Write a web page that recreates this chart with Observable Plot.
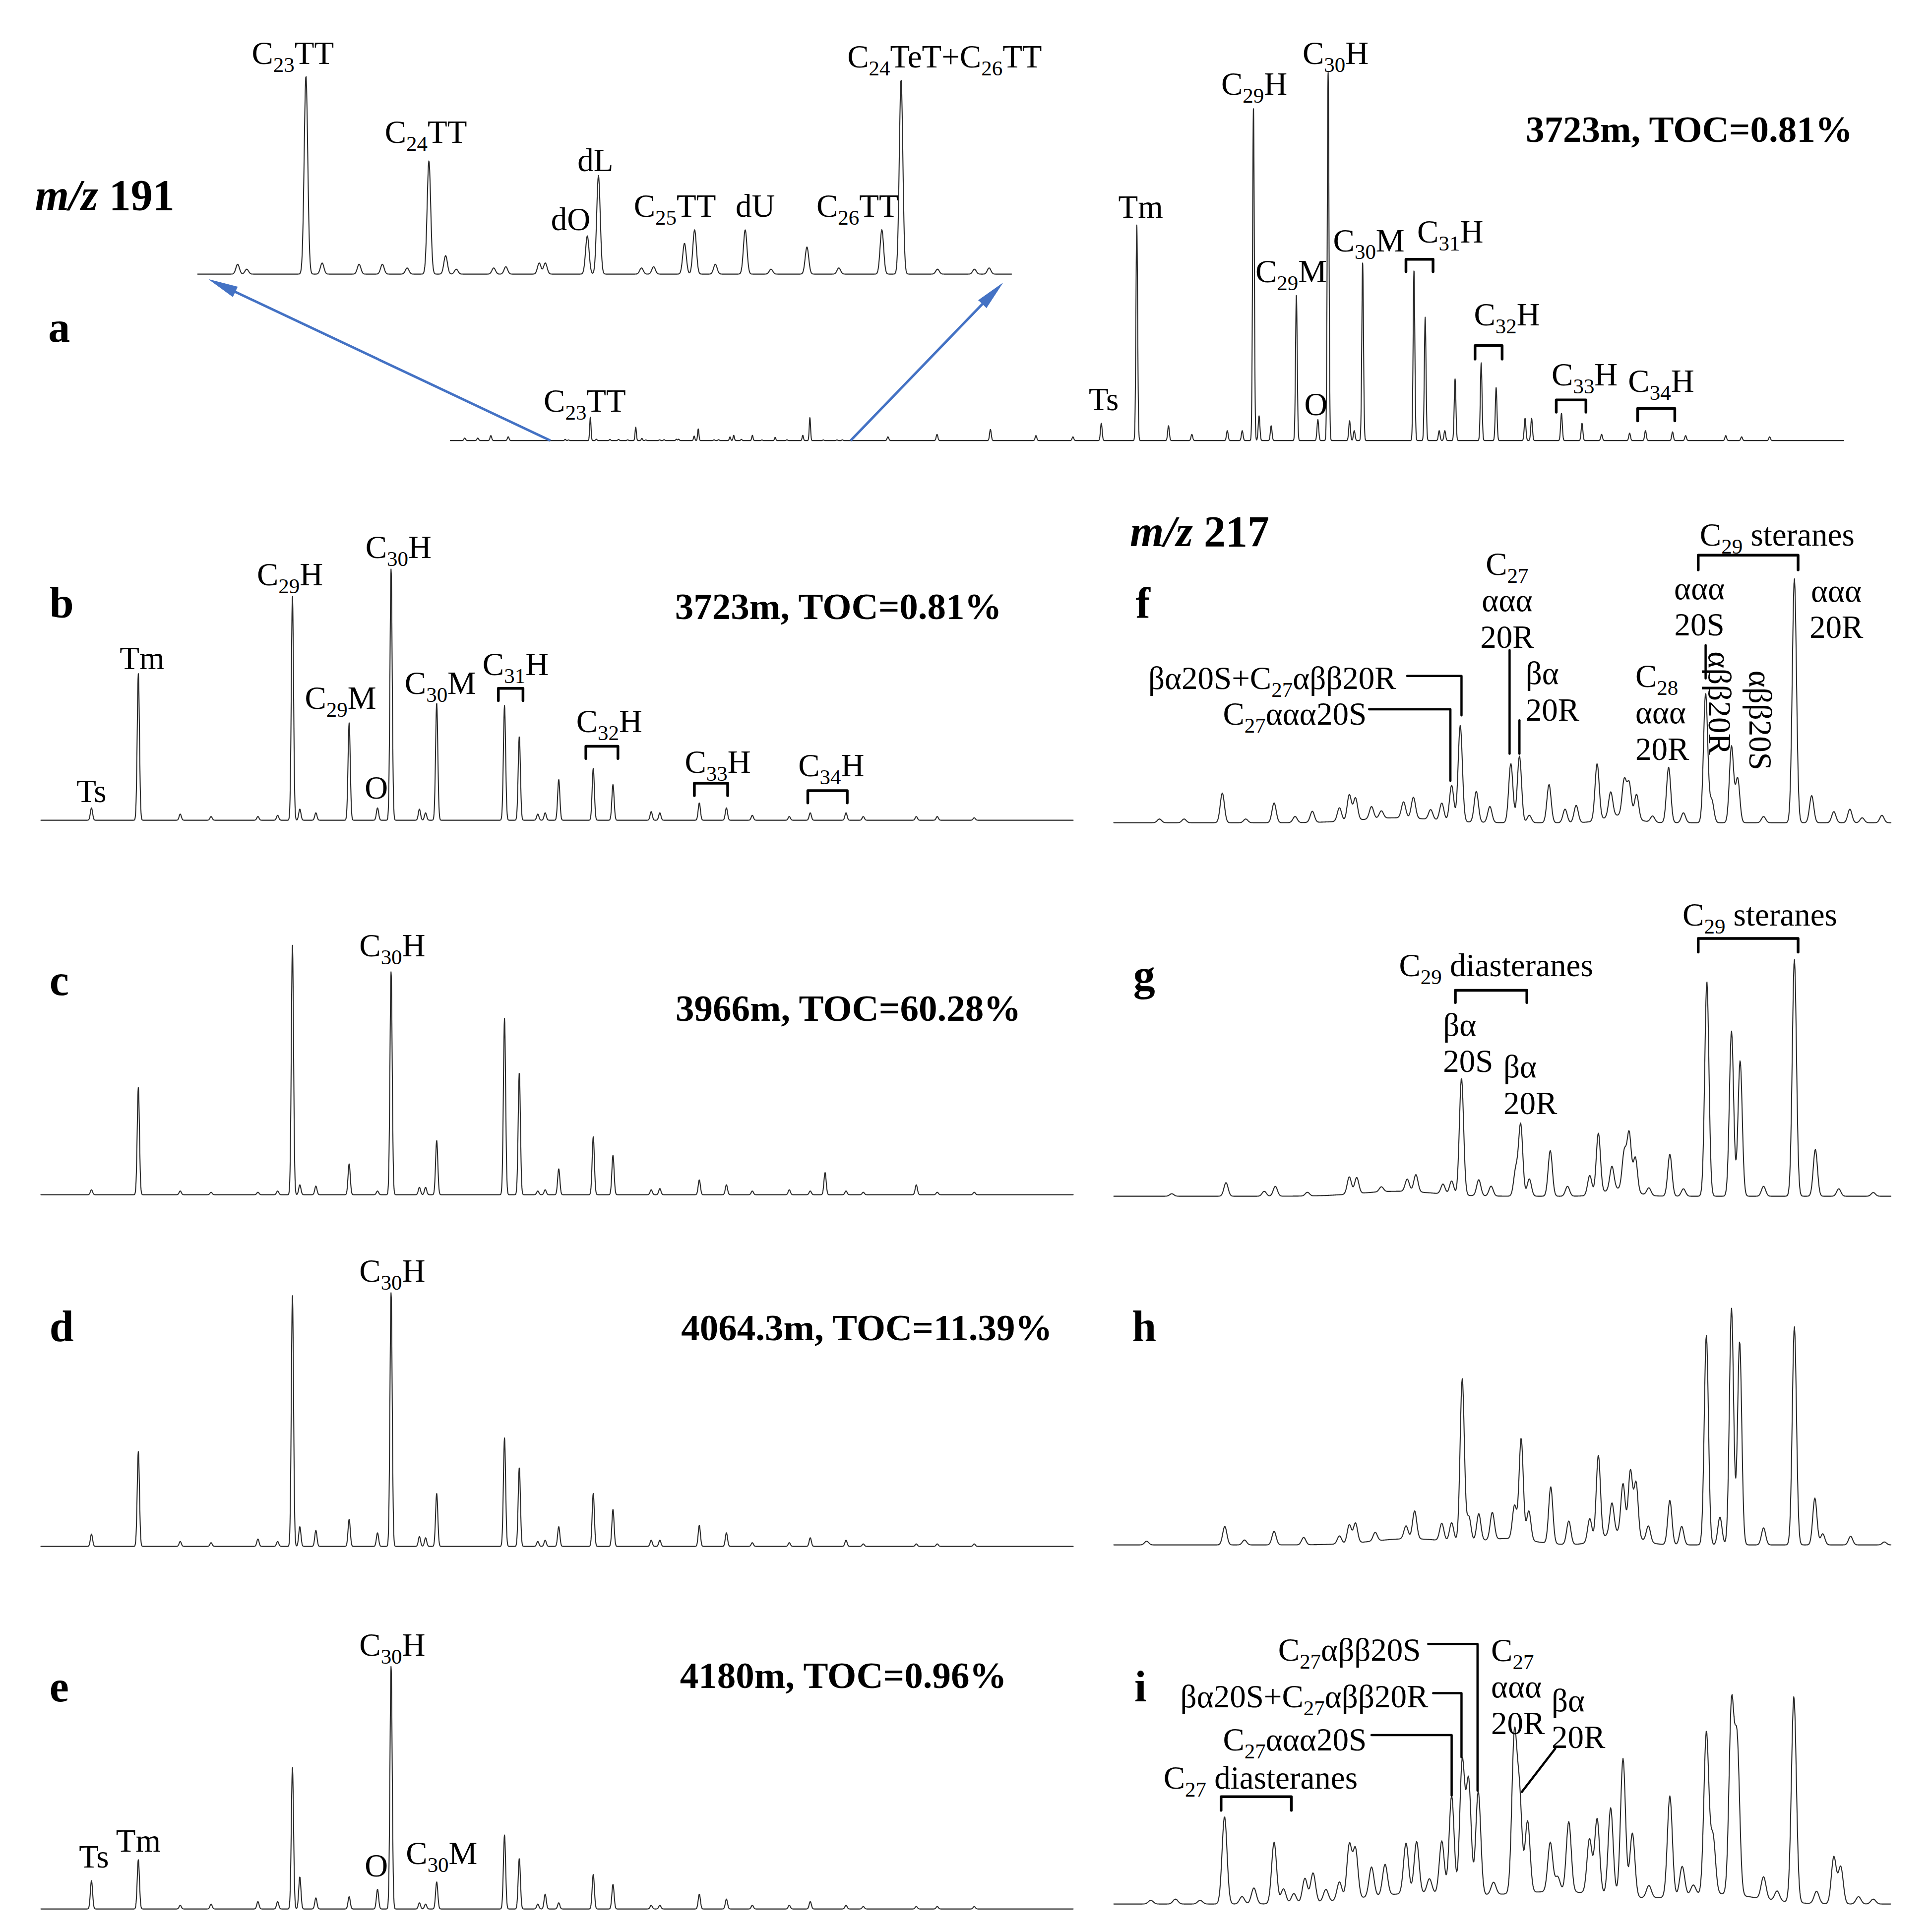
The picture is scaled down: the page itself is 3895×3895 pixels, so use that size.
<!DOCTYPE html>
<html>
<head>
<meta charset="utf-8">
<script src="https://cdn.jsdelivr.net/npm/d3@7"></script>
<script src="https://cdn.jsdelivr.net/npm/@observablehq/plot@0.6"></script>
<style>
  html, body { margin: 0; padding: 0; background: #fff; }
  #root { position: relative; width: 3895px; height: 3895px; background: #fff; overflow: hidden; }
  #root > svg { position: absolute; overflow: visible; max-width: none; }
</style>
</head>
<body>
<div id="root"></div>
<script>
// ================= DATA =================
// m/z 191 terpanes: retention time (min) of each compound, shared by panels a–e
const hopaneRT = [38.70,40.60,42.30,43.55,45.45,46.25,46.85,47.15,47.80,49.15,50.30,50.85,52.00,52.25,52.70,55.45,56.05,56.80,57.10,57.65,59.05,59.85,61.40,61.75,63.35,64.45,65.50,67.00,67.85,69.30,70.00,72.15,73.00,74.50,68.45];
// peak intensities (arbitrary units) per sample
const hopaneA = [14,175,12,5,8,8,270,20,12,118,17,299,16,8,144,138,100,8,8,50,63,43,18,18,22,14,5,6,8,7,4,4,3,3,0];
const hopaneB = [10,119,5,3,3,4,182,9,6,79,10,204,9,6,95,93,68,5,6,33,42,29,7,6,14,10,4,3,6,6,3,3,3,2,0];
const hopaneC = [4,87,3,2,2,3,203,8,7,25,3,181,6,6,44,143,99,3,4,21,47,32,4,5,12,8,3,4,3,3,2,8,2,2,18];
const hopaneD = [10,77,4,3,6,4,204,16,13,22,11,206,8,7,43,88,64,4,5,16,43,30,5,5,17,11,3,3,7,5,2,2,2,2,0];
const hopaneE = [23,40,3,4,6,6,115,26,9,10,16,197,5,4,22,60,41,4,12,5,28,20,3,3,12,8,3,3,6,3,2,2,2,2,0];
// early small peaks of sample a (RT, intensity)
const earlyA = [[4.6,2],[5.3,2],[6.0,4],[6.93,3],[27.27,3],[29.9,5],[32.76,9],[35.2,4],[37.18,3]];
// tricyclic terpanes of sample a (RT, intensity in the magnified inset)
const tricyclicA = [[9.98,8],[10.16,4],[11.33,161],[11.65,9],[12.38,8],[12.84,8],[13.33,5],[13.76,92],[14.09,15],[14.30,4],[15.04,5],[15.28,6],[15.94,9],[16.06,9],[16.89,31],[17.11,80],[17.96,5],[18.20,6],[18.81,25],[19.01,36],[19.42,8],[20.01,36],[20.52,4],[21.23,22],[21.86,5],[22.71,36],[23.09,158],[23.81,4],[24.54,4],[24.83,5]];
const insetZoom = 8.5;

// m/z 217 steranes (RT, intensity[, peak width])
const steraneF = [[36.85,3],[37.85,3],[39.40,24],[40.35,3],[41.50,16],[42.35,5],[43.05,9],[44.15,11],[44.55,21],[44.80,18],[45.45,10],[45.85,6],[46.75,13],[47.15,17],[47.85,8],[48.30,14],[48.70,29],[49.05,78],[49.70,25],[50.25,13],[51.10,48],[51.45,54],[51.85,6],[52.65,31],[53.30,11],[53.75,14],[54.60,46],[55.15,20],[55.70,29],[55.90,27],[56.20,20],[56.85,5],[57.50,45],[58.10,8],[59.00,105],[59.25,18],[60.05,62],[60.30,36],[61.35,5],[62.60,198],[63.30,22],[64.20,9],[64.85,11],[65.35,4],[66.15,6],[46.5,4,1.5],[55.5,6,0.6]];
const steraneG = [[37.35,2],[39.55,11],[41.10,4],[41.55,8],[42.85,3],[44.55,14],[44.85,13],[45.85,4],[46.90,10],[47.25,14],[48.35,8],[48.70,11],[49.10,95],[49.80,13],[50.30,8],[51.30,21],[51.50,58],[51.85,14],[52.70,37],[53.40,8],[54.30,16],[54.65,49],[55.20,19],[55.70,30],[55.90,46],[56.15,28],[56.70,6],[57.55,34],[58.10,6],[59.05,174],[60.05,134],[60.40,110],[61.35,8],[62.60,192],[63.45,38],[64.40,6],[65.80,3],[46.5,4,1.5],[55.5,6,0.6]];
const steraneH = [[36.33,3],[39.50,15],[40.30,4],[41.50,11],[42.70,6],[44.15,6.5],[44.55,15],[44.80,16],[45.60,7],[46.85,10.5],[47.20,22.6],[48.30,14],[48.70,15],[49.13,132],[49.40,20],[49.80,22],[50.35,22],[51.25,27],[51.52,82],[51.83,24],[52.72,46],[53.45,19],[54.30,19],[54.65,68],[55.20,25],[55.65,40],[55.95,52],[56.18,44],[56.68,13],[57.55,36],[58.03,15],[59.03,170],[59.58,22.6],[60.05,192],[60.38,165],[61.35,13.8],[62.60,177],[63.43,38],[63.75,9],[64.88,7],[66.25,2.4],[47.0,5,1.5],[51.0,5,1.0],[55.5,10,0.7]];
const steraneI = [[39.49,71],[40.68,13],[41.50,50],[41.88,12],[42.75,20],[43.08,24],[44.15,15],[44.55,44],[44.80,40],[45.45,24],[46.00,25],[46.85,41],[47.28,42],[48.30,43],[48.70,80],[49.13,108],[49.39,92],[49.78,84],[51.24,125],[51.45,78],[51.78,58],[52.70,40],[53.45,57],[54.29,44],[54.60,61],[55.15,71],[55.65,112],[56.03,52],[57.55,82],[58.05,24],[59.03,131],[59.30,46],[60.05,152],[60.28,122],[61.35,18],[62.58,167],[64.20,38],[64.48,30],[36.5,3],[37.5,4],[38.5,3],[40.2,6],[42.3,8],[43.6,10],[47.8,12],[50.4,10],[53.0,12],[56.7,10],[58.5,8],[61.9,8],[63.5,10],[65.2,6],[65.8,4],[47.0,8,2.0],[53.0,10,2.5],[59.5,8,1.6]];

// peak labels: RT, label level (intensity units), text ("_" marks a subscript)
const labelsA = [
  {t:38.83,y:34,text:"Ts"},{t:40.81,y:190,text:"Tm"},{t:46.89,y:290,text:"C_29H"},{t:48.87,y:138,text:"C_29M"},
  {t:50.20,y:30,text:"O"},{t:51.25,y:315,text:"C_30H"},{t:53.03,y:163,text:"C_30M"},{t:57.39,y:170,text:"C_31H"},
  {t:60.43,y:103,text:"C_32H"},{t:64.59,y:54,text:"C_33H"},{t:68.69,y:49,text:"C_34H"},{t:11.03,y:33,text:"C_23TT"}
];
const bracketsA = [[55.02,56.47,147,137],[58.72,60.17,77,66],[63.07,64.66,33,23],[67.43,69.42,26,16]];
const labelsInset = [
  {t:11.07,y:180,text:"C_23TT"},{t:13.70,y:116,text:"C_24TT"},{t:16.56,y:45,text:"dO"},{t:17.05,y:93,text:"dL"},
  {t:18.62,y:56,text:"C_25TT"},{t:20.21,y:56,text:"dU"},{t:22.23,y:56,text:"C_26TT"},{t:23.95,y:177,text:"C_24TeT+C_26TT"}
];
const labelsB = [
  {t:38.70,y:24,text:"Ts"},{t:40.75,y:132,text:"Tm"},{t:46.75,y:200,text:"C_29H"},{t:48.80,y:100,text:"C_29M"},
  {t:50.25,y:27,text:"O"},{t:51.15,y:222,text:"C_30H"},{t:52.85,y:112,text:"C_30M"},{t:55.90,y:127,text:"C_31H"},
  {t:59.70,y:81,text:"C_32H"},{t:64.10,y:48,text:"C_33H"},{t:68.70,y:45,text:"C_34H"}
];
const bracketsB = [[55.20,56.20,107,97],[58.75,60.05,60,50],[63.15,64.50,30,20],[67.75,69.35,24,14]];
const labelsC = [{t:50.90,y:203,text:"C_30H"}];
const labelsD = [{t:50.90,y:224,text:"C_30H"}];
const labelsE = [
  {t:38.80,y:43,text:"Ts"},{t:40.60,y:56,text:"Tm"},{t:50.25,y:36,text:"O"},{t:50.90,y:215,text:"C_30H"},{t:52.90,y:46,text:"C_30M"}
];
const labelsF = [
  {t:61.90,y:234,text:"C_29 steranes"},
  {t:50.95,y:181,text:"C_27\nααα\n20R"},
  {t:51.70,y:107,text:"βα\n20R",anchor:"start"},
  {t:56.15,y:90,text:"C_28\nααα\n20R",anchor:"start"},
  {t:58.75,y:176,text:"ααα\n20S"},
  {t:64.30,y:174,text:"ααα\n20R"},
  {t:59.60,y:97,text:"αββ20R",rotate:true},
  {t:61.25,y:83,text:"αββ20S",rotate:true},
  {t:46.45,y:118,text:"βα20S+C_27αββ20R",anchor:"end"},
  {t:45.25,y:89,text:"C_27ααα20S",anchor:"end"}
];
const bracketsF = [[58.70,62.75,217,205]];
const connectorsF = [
  [[46.90,119],[49.10,119],[49.10,87]],
  [[45.35,92],[48.65,92],[48.65,34]],
  [[51.05,140],[51.05,56]],
  [[51.45,83],[51.45,56]],
  [[59.00,144],[59.00,117]]
];
const labelsG = [
  {t:50.50,y:188,text:"C_29 diasteranes"},
  {t:48.35,y:125,text:"βα\n20S",anchor:"start"},
  {t:50.80,y:91,text:"βα\n20R",anchor:"start"},
  {t:61.20,y:229,text:"C_29 steranes"}
];
const bracketsG = [[48.85,51.75,167,157],[58.70,62.75,209,198]];
const labelsI = [
  {t:47.45,y:207,text:"C_27αββ20S",anchor:"end"},
  {t:47.75,y:169,text:"βα20S+C_27αββ20R",anchor:"end"},
  {t:45.25,y:134,text:"C_27ααα20S",anchor:"end"},
  {t:40.95,y:103,text:"C_27 diasteranes"},
  {t:50.30,y:177,text:"C_27\nααα\n20R",anchor:"start"},
  {t:52.75,y:151,text:"βα\n20R",anchor:"start"}
];
const bracketsI = [[39.35,42.20,87,76]];
const connectorsI = [
  [[47.75,211],[49.75,211],[49.75,92]],
  [[47.95,171],[49.10,171],[49.10,119]],
  [[45.45,137],[48.70,137],[48.70,88]],
  [[52.90,126],[51.55,91]]
];
const sampleTitles = ["3723m, TOC=0.81%","3723m, TOC=0.81%","3966m, TOC=60.28%","4064.3m, TOC=11.39%","4180m, TOC=0.96%"];

// ================= RENDER =================
const S = 3895 / 1567;               // layout unit -> px
const SERIF = "'Liberation Serif','Times New Roman',Times,serif";
const LABEL_SIZE = 65;
const TRACE = "#2b2b2b";
const BLUE = "#4472C4";
const root = document.getElementById("root");

const domainA = [3.83, 78.46], domainInset = [9.19, 25.27], domainHop = [36.65, 78.5], domainSter = [35.0, 66.5];
const layout = {
  aMain:  {left: 365, right: 1495, top: 20,  base: 357, padLeft: 215},
  aInset: {left: 160, right: 820,  top: 20,  base: 222},
  b: {left: 33, right: 870, top: 395, base: 665},
  c: {left: 33, right: 870, top: 699, base: 969},
  d: {left: 33, right: 870, top: 984, base: 1254},
  e: {left: 33, right: 870, top: 1278, base: 1548},
  f: {left: 903, right: 1533, top: 397, base: 667},
  g: {left: 903, right: 1533, top: 700, base: 970},
  h: {left: 903, right: 1533, top: 983, base: 1253},
  i: {left: 903, right: 1533, top: 1274, base: 1544}
};

const zip = (rt, h) => rt.map((t, k) => [t, h[k]]).filter(p => p[1] > 0);

function trace(peaks, domain, sigma) {
  const minW = Math.min(sigma, ...peaks.map(p => p[2] || sigma));
  const step = minW / 4;
  const n = Math.ceil((domain[1] - domain[0]) / step);
  const out = [];
  for (let k = 0; k <= n; k++) {
    const t = domain[0] + k * step;
    let v = 0;
    for (const p of peaks) {
      const w = p[2] || sigma;
      const z = (t - p[0]) / w;
      if (z > -7 && z < 7) v += p[1] * Math.exp(-0.5 * z * z);
    }
    out.push({t, v});
  }
  return out;
}

function applySubscripts(svg) {
  svg.querySelectorAll("text").forEach(textEl => {
    const spans = textEl.querySelectorAll("tspan");
    const targets = spans.length ? Array.from(spans) : [textEl];
    targets.forEach(el => {
      const s = el.textContent;
      if (!s.includes("_")) return;
      const parts = s.split(/_(\d+)/);
      el.textContent = "";
      parts.forEach((p, k) => {
        if (!p) return;
        if (k % 2 === 0) el.appendChild(document.createTextNode(p));
        else {
          const sub = document.createElementNS("http://www.w3.org/2000/svg", "tspan");
          sub.setAttribute("font-size", Math.round(LABEL_SIZE * 0.66));
          sub.setAttribute("baseline-shift", "-16px");
          sub.textContent = p;
          el.appendChild(sub);
        }
      });
    });
  });
}

function traceMark(data) {
  return Plot.line(data, {x: "t", y: "v", stroke: TRACE, strokeWidth: 2.1, strokeLinejoin: "round"});
}
function labelMarks(labels) {
  const common = {x: "t", y: "y", text: "text", fontSize: LABEL_SIZE, fontFamily: SERIF, lineAnchor: "middle", lineHeight: 1.13, fill: "black"};
  const marks = [];
  for (const anchor of ["start", "middle", "end"]) {
    const d = labels.filter(l => (l.anchor || "middle") === anchor && !l.rotate);
    if (d.length) marks.push(Plot.text(d, {...common, textAnchor: anchor}));
  }
  const r = labels.filter(l => l.rotate);
  if (r.length) marks.push(Plot.text(r, {...common, rotate: 90}));
  return marks;
}
function bracketMark(brs) {
  const pts = brs.flatMap((b, k) => [
    {t: b[0], y: b[3], k}, {t: b[0], y: b[2], k}, {t: b[1], y: b[2], k}, {t: b[1], y: b[3], k}]);
  return Plot.line(pts, {x: "t", y: "y", z: "k", stroke: "black", strokeWidth: 5.5, strokeLinejoin: "round"});
}
function connectorMark(conns) {
  const pts = conns.flatMap((c, k) => c.map(([t, y]) => ({t, y, k})));
  return Plot.line(pts, {x: "t", y: "y", z: "k", stroke: "black", strokeWidth: 4.5});
}

function makePanel(g, domain, marks) {
  const pad = g.padLeft || 0;
  const mb = 10;
  const width = (g.right - g.left + pad) * S + 10;
  const height = (g.base - g.top) * S + mb;
  const svg = Plot.plot({
    width, height,
    marginLeft: pad * S, marginRight: 10, marginTop: 0, marginBottom: mb,
    x: {domain, axis: null},
    y: {domain: [0, g.base - g.top], axis: null},
    style: {background: "transparent", overflow: "visible", fontFamily: SERIF},
    marks
  });
  svg.style.position = "absolute";
  svg.style.left = ((g.left - pad) * S) + "px";
  svg.style.top = (g.top * S) + "px";
  svg.style.maxWidth = "none";
  applySubscripts(svg);
  return svg;
}

const SIG_HOP = 0.045, SIG_TRI = 0.035, SIG_STER = 0.085, SIG_STER_I = 0.1;

// ---- panel a: inset (magnified tricyclic region) ----
const insetPeaks = tricyclicA.map(([t, h]) => [t, h, SIG_TRI]);
const inset = makePanel(layout.aInset, domainInset, [
  traceMark(trace(insetPeaks, domainInset, SIG_TRI)),
  ...labelMarks(labelsInset)
]);
root.appendChild(inset);

// ---- panel a: full chromatogram ----
const peaksA = [
  ...zip(hopaneRT, hopaneA).map(([t, h]) => [t, h, SIG_HOP]),
  ...earlyA.map(([t, h]) => [t, h, SIG_HOP]),
  ...tricyclicA.map(([t, h]) => [t, h / insetZoom, SIG_TRI])
];
const mainBase = [
  traceMark(trace(peaksA, domainA, SIG_HOP)),
  ...labelMarks(labelsA),
  bracketMark(bracketsA)
];
const probe = makePanel(layout.aMain, domainA, mainBase);
const ix = inset.scale("x"), iy = inset.scale("y");
const mx = probe.scale("x"), my = probe.scale("y");
const mainOrigin = [(layout.aMain.left - layout.aMain.padLeft) * S, layout.aMain.top * S];
// arrows from the zoom window on the full trace to the ends of the inset, via the two plots' scales
const HEAD = 58, GAP = 26;
const arrowShafts = [], arrowHeads = [];
domainInset.forEach(t => {
  const tx = mx.apply(t), ty = my.apply(0);
  const ex = layout.aInset.left * S + ix.apply(t) - mainOrigin[0];
  const ey = layout.aInset.top * S + iy.apply(0) - mainOrigin[1];
  const L = Math.hypot(ex - tx, ey - ty), ux = (ex - tx) / L, uy = (ey - ty) / L;
  const px = ex - ux * GAP, py = ey - uy * GAP;            // arrow tip
  const sx = px - ux * HEAD * 0.6, sy = py - uy * HEAD * 0.6; // shaft end, under the head
  arrowShafts.push({x1: t, y1: 0, x2: mx.invert(sx), y2: my.invert(sy)});
  arrowHeads.push({x: mx.invert(px), y: my.invert(py), rot: Math.atan2(ux, -uy) * 180 / Math.PI});
});
const mainA = makePanel(layout.aMain, domainA, [
  ...mainBase,
  Plot.link(arrowShafts, {x1: "x1", y1: "y1", x2: "x2", y2: "y2", stroke: BLUE, strokeWidth: 5}),
  Plot.vector(arrowHeads, {x: "x", y: "y", rotate: "rot", length: HEAD, shape: "spike", r: 11, anchor: "end", fill: BLUE, stroke: BLUE, strokeWidth: 1, fillOpacity: 1})
]);
root.appendChild(mainA);

// ---- panels b–e (m/z 191) ----
const hopPanels = [
  [layout.b, hopaneB, labelsB, bracketsB],
  [layout.c, hopaneC, labelsC, []],
  [layout.d, hopaneD, labelsD, []],
  [layout.e, hopaneE, labelsE, []]
];
for (const [g, h, labels, brs] of hopPanels) {
  const marks = [traceMark(trace(zip(hopaneRT, h), domainHop, SIG_HOP)), ...labelMarks(labels)];
  if (brs.length) marks.push(bracketMark(brs));
  root.appendChild(makePanel(g, domainHop, marks));
}

// ---- panels f–i (m/z 217) ----
const sterPanels = [
  [layout.f, steraneF, SIG_STER, labelsF, bracketsF, connectorsF],
  [layout.g, steraneG, SIG_STER, labelsG, bracketsG, []],
  [layout.h, steraneH, SIG_STER, [], [], []],
  [layout.i, steraneI, SIG_STER_I, labelsI, bracketsI, connectorsI]
];
for (const [g, peaks, sig, labels, brs, conns] of sterPanels) {
  const marks = [traceMark(trace(peaks, domainSter, sig)), ...labelMarks(labels)];
  if (brs.length) marks.push(bracketMark(brs));
  if (conns.length) marks.push(connectorMark(conns));
  root.appendChild(makePanel(g, domainSter, marks));
}

// ---- headings: panel letters, ion labels, sample titles ----
const ov = d3.create("svg").attr("width", 3895).attr("height", 3895)
  .style("left", "0px").style("top", "0px").style("position", "absolute")
  .attr("font-family", SERIF).attr("font-weight", "bold");
const letters = [["a",48,277],["b",50,501],["c",48,807],["d",50,1088],["e",48,1380],["f",927,501],["g",928,803],["h",928,1088],["i",925,1380]];
for (const [txt, x, y] of letters) {
  ov.append("text").attr("x", x * S).attr("y", y * S).attr("text-anchor", "middle").attr("font-size", 88).text(txt);
}
const titlePos = [[1370,115],[680,502],[688,828],[703,1087],[684,1369]];
sampleTitles.forEach((txt, k) => {
  ov.append("text").attr("x", titlePos[k][0] * S).attr("y", titlePos[k][1] * S).attr("text-anchor", "middle").attr("font-size", 75).text(txt);
});
for (const [ion, x, y] of [["191",85,170],["217",973,443]]) {
  const t = ov.append("text").attr("x", x * S).attr("y", y * S).attr("text-anchor", "middle").attr("font-size", 88);
  t.append("tspan").attr("font-style", "italic").text("m/z");
  t.append("tspan").text(" " + ion);
}
root.appendChild(ov.node());
</script>
</body>
</html>
